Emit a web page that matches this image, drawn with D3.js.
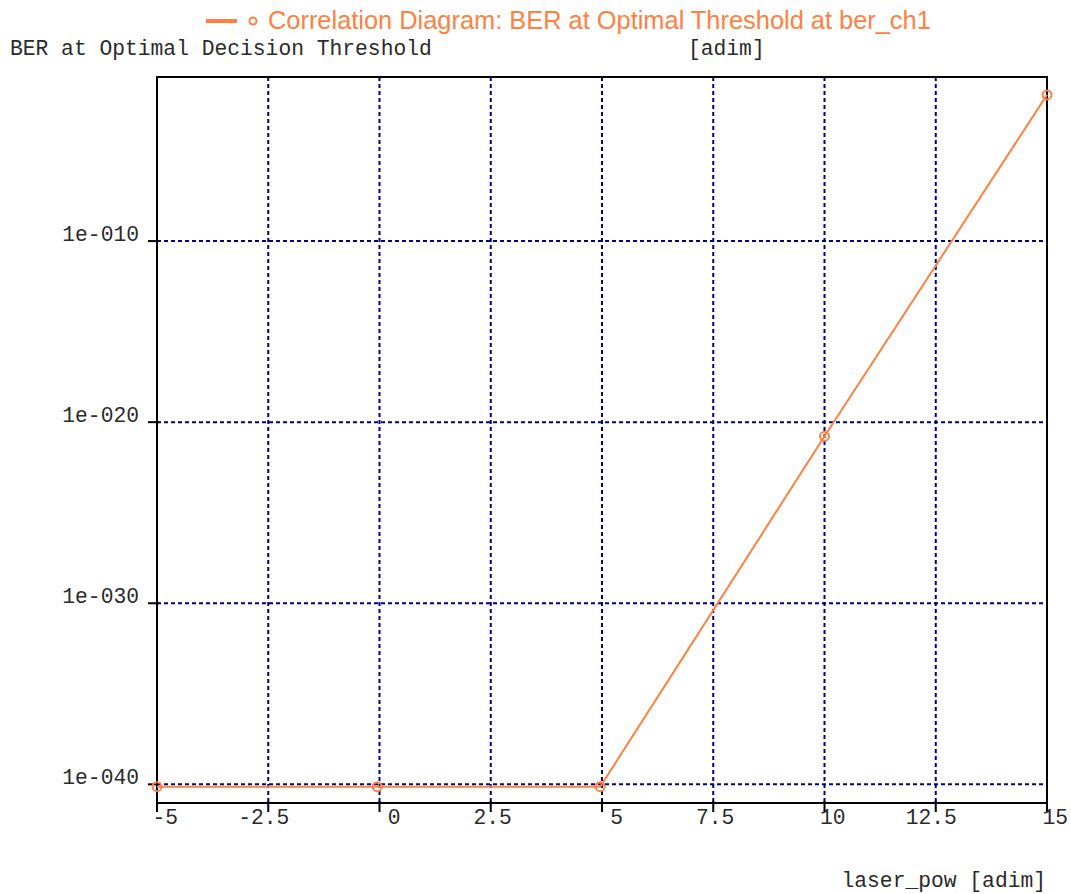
<!DOCTYPE html>
<html>
<head>
<meta charset="utf-8">
<script src="https://cdn.jsdelivr.net/npm/d3@7"></script>
<style>
  body { margin: 0; background: #fff; }
  svg { display: block; }
  .mono { font-family: "Liberation Mono", "Courier New", monospace; font-size: 21.3px; fill: #2a2a2a; }
</style>
</head>
<body>
<div id="chart"></div>
<script>
// Series: BER at optimal threshold vs laser_pow.
const laserPow = [-5, -0.05, 4.96, 10, 15]
const ber = [7.4e-41, 7.4e-41, 7.4e-41, 1.66e-21, 0.0118]

// Axis ticks.
const xTicks = [-5, -2.5, 0, 2.5, 5, 7.5, 10, 12.5, 15]
const xTickLabels = ['-5', '-2.5', '0', '2.5', '5', '7.5', '10', '12.5', '15']
const yTicks = [1e-10, 1e-20, 1e-30, 1e-40]
const yTickLabels = ['1e-010', '1e-020', '1e-030', '1e-040']

const titleText = 'Correlation Diagram: BER at Optimal Threshold at ber_ch1'
const yLabel = 'BER at Optimal Decision Threshold'
const yUnit = '[adim]'
const xLabel = 'laser_pow [adim]'

const width = 1071, height = 894
const margin = {top: 77, right: 24, bottom: 91, left: 157}
const orange = '#ff8040'
const navy = '#000080'

const svg = d3.select('#chart')
  .append('svg')
    .attr('width', width)
    .attr('height', height)

const x = d3.scaleLinear()
  .domain([-5, 15])
  .range([margin.left, width - margin.right])

const y = d3.scaleLog()
  .domain([Math.pow(10, -41.03), Math.pow(10, -0.94)])
  .range([height - margin.bottom, margin.top])

// Grid.
svg.append('g')
  .selectAll('line')
  .data(xTicks.slice(1, -1))
  .join('line')
    .attr('x1', d => x(d)).attr('x2', d => x(d))
    .attr('y1', margin.top).attr('y2', height - margin.bottom)
    .attr('stroke', navy).attr('stroke-width', 2)
    .attr('stroke-dasharray', '4,3')

svg.append('g')
  .selectAll('line')
  .data(yTicks)
  .join('line')
    .attr('x1', margin.left).attr('x2', width - margin.right)
    .attr('y1', d => y(d)).attr('y2', d => y(d))
    .attr('stroke', navy).attr('stroke-width', 2)
    .attr('stroke-dasharray', '4,3')

// Frame.
svg.append('rect')
  .attr('x', margin.left)
  .attr('y', margin.top)
  .attr('width', width - margin.left - margin.right)
  .attr('height', height - margin.top - margin.bottom)
  .attr('fill', 'none')
  .attr('stroke', '#000')
  .attr('stroke-width', 2)

// X axis ticks and labels (labels end to the right of the tick).
const xAxis = svg.append('g')
  .attr('transform', 'translate(0,' + (height - margin.bottom) + ')')
xAxis.selectAll('line')
  .data(xTicks)
  .join('line')
    .attr('x1', d => x(d)).attr('x2', d => x(d))
    .attr('y1', -2).attr('y2', 9)
    .attr('stroke', '#000').attr('stroke-width', 2)
xAxis.selectAll('text')
  .data(xTicks)
  .join('text')
    .attr('class', 'mono')
    .attr('x', d => x(d) + 21)
    .attr('y', 21)
    .attr('text-anchor', 'end')
    .text((d, i) => xTickLabels[i])

// Y axis ticks and labels.
const yAxis = svg.append('g')
  .attr('transform', 'translate(' + margin.left + ',0)')
yAxis.selectAll('line')
  .data(yTicks)
  .join('line')
    .attr('x1', -9).attr('x2', 2)
    .attr('y1', d => y(d)).attr('y2', d => y(d))
    .attr('stroke', '#000').attr('stroke-width', 2)
yAxis.selectAll('text')
  .data(yTicks)
  .join('text')
    .attr('class', 'mono')
    .attr('x', -18)
    .attr('y', d => y(d))
    .attr('text-anchor', 'end')
    .text((d, i) => yTickLabels[i])

// Axis titles.
svg.append('text').attr('class', 'mono')
  .attr('x', 10).attr('y', 55)
  .text(yLabel)
svg.append('text').attr('class', 'mono')
  .attr('x', 688).attr('y', 55)
  .text(yUnit)
svg.append('text').attr('class', 'mono')
  .attr('x', 1046).attr('y', 887)
  .attr('text-anchor', 'end')
  .text(xLabel)

// Series line and markers.
const points = laserPow.map((d, i) => [d, ber[i]])
svg.append('path')
  .datum(points)
  .attr('fill', 'none')
  .attr('stroke', orange)
  .attr('stroke-width', 2)
  .attr('d', d3.line().x(d => x(d[0])).y(d => y(d[1])))

svg.append('g')
  .selectAll('circle')
  .data(points)
  .join('circle')
    .attr('cx', d => x(d[0]))
    .attr('cy', d => y(d[1]))
    .attr('r', 4.5)
    .attr('fill', 'none')
    .attr('stroke', orange)
    .attr('stroke-width', 2)

// Legend / title.
svg.append('line')
  .attr('x1', 206).attr('x2', 237)
  .attr('y1', 21).attr('y2', 21)
  .attr('stroke', orange).attr('stroke-width', 4)
svg.append('circle')
  .attr('cx', 253).attr('cy', 21).attr('r', 3.5)
  .attr('fill', 'none').attr('stroke', orange).attr('stroke-width', 2)
svg.append('text')
  .attr('x', 268).attr('y', 29)
  .attr('font-family', '"Liberation Sans", Arial, sans-serif')
  .attr('font-size', 25.4)
  .attr('fill', orange)
  .text(titleText)
</script>
</body>
</html>
